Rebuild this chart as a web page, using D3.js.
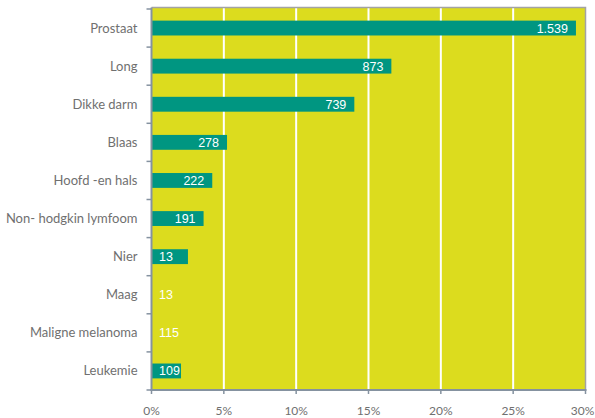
<!DOCTYPE html>
<html><head><meta charset="utf-8">
<script src="https://cdn.jsdelivr.net/npm/d3@7"></script>
<style>body{margin:0;background:#fff}svg{display:block}</style>
</head><body>
<svg id="c" width="595" height="418"></svg>
<script>
const categories = ["Prostaat","Long","Dikke darm","Blaas","Hoofd -en hals","Non- hodgkin lymfoom","Nier","Maag","Maligne melanoma","Leukemie"];
const percentValues = [29.34, 16.58, 14.02, 5.22, 4.2, 3.6, 2.52, 0, 0, 2.04];
const barLabels = ["1.539","873","739","278","222","191","13","13","115","109"];
const xTicks = [0,5,10,15,20,25,30];
const xTickLabels = ["0%","5%","10%","15%","20%","25%","30%"];

const svg = d3.select("#c");
const m = {l:151.5, r:585.5, t:9, b:390};
const x = d3.scaleLinear().domain([0,30]).range([m.l, m.r]);
const y = d3.scaleBand().domain(categories).range([m.t, m.b]).paddingInner(0.61).paddingOuter(0.305);

svg.append("rect").attr("x",m.l).attr("y",m.t-1).attr("width",m.r-m.l).attr("height",m.b-m.t+1).attr("fill","#dcdc1e");
svg.append("g").selectAll("line").data(xTicks.slice(1,-1)).join("line")
  .attr("x1",d=>x(d)).attr("x2",d=>x(d)).attr("y1",m.t-1).attr("y2",m.b)
  .attr("stroke","#fff").attr("stroke-width",2);
svg.append("path").attr("d",`M${m.l},${m.t-1.5}H${m.r}V${m.b}`).attr("fill","none").attr("stroke","#a3a3a3").attr("stroke-width",1.5);

svg.append("g").selectAll("rect").data(categories).join("rect")
  .attr("x",x(0)).attr("y",d=>y(d)).attr("height",y.bandwidth())
  .attr("width",(d,i)=>x(percentValues[i])-x(0)).attr("fill","#009681");

svg.append("g").selectAll("text").data(categories).join("text")
  .each(function(d,i){
    const w = x(percentValues[i])-x(0);
    const t = d3.select(this);
    if (w < 40) t.attr("x", x(0)+7.5).attr("text-anchor","start");
    else t.attr("x", x(percentValues[i])-8).attr("text-anchor","end");
  })
  .attr("y",d=>y(d)+y.bandwidth()/2+4.5)
  .attr("fill","#fff").attr("font-family","Liberation Sans, Arial, sans-serif").attr("font-size",12.5)
  .text((d,i)=>barLabels[i]);

const axisColor = "#8592a0";
const ya = svg.append("g").attr("transform",`translate(${m.l},0)`);
ya.append("line").attr("x1",0).attr("x2",0).attr("y1",m.t-1.5).attr("y2",m.b+1).attr("stroke",axisColor).attr("stroke-width",2);
const bounds = categories.map(c=>y(c)-y.step()*y.paddingInner()/2).concat([m.b]);
ya.selectAll("line.t").data(bounds).join("line").attr("class","t")
  .attr("x1",-5).attr("x2",0).attr("y1",d=>d).attr("y2",d=>d).attr("stroke",axisColor).attr("stroke-width",1.5);
ya.selectAll("text").data(categories).join("text")
  .attr("x",-14).attr("y",d=>y(d)+y.bandwidth()/2+4.5).attr("text-anchor","end")
  .attr("fill","#707070").attr("font-family","Lato, sans-serif").attr("font-size",13)
  .text(d=>d);

const xa = svg.append("g").attr("transform",`translate(0,${m.b})`);
xa.append("line").attr("x1",m.l-1).attr("x2",m.r+1).attr("stroke",axisColor).attr("stroke-width",2);
xa.selectAll("line.t").data(xTicks).join("line").attr("class","t")
  .attr("x1",d=>x(d)).attr("x2",d=>x(d)).attr("y1",0).attr("y2",4).attr("stroke",axisColor).attr("stroke-width",1.5);
xa.selectAll("text").data(xTicks).join("text")
  .attr("x",(d,i)=>i===xTicks.length-1 ? x(d)-3 : x(d)).attr("y",24.5).attr("text-anchor","middle")
  .attr("fill","#707070").attr("font-family","Lato, sans-serif").attr("font-size",12)
  .text((d,i)=>xTickLabels[i]);
</script>
</body></html>
